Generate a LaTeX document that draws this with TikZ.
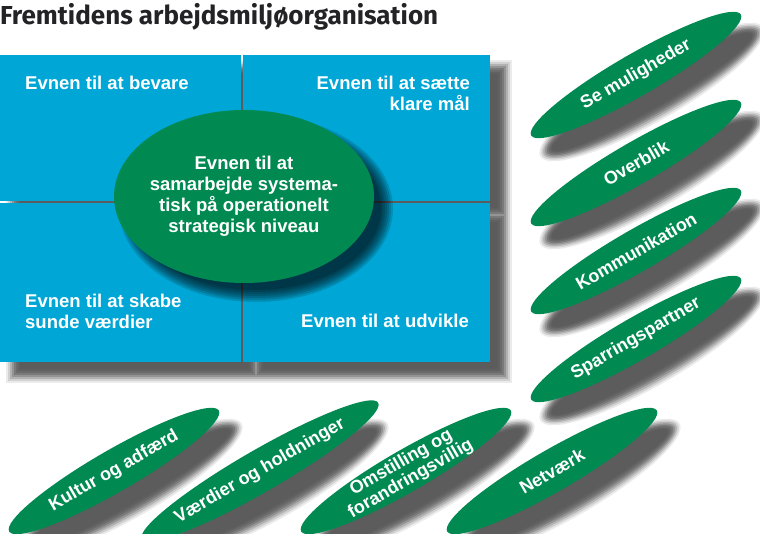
\documentclass[tikz,border=0pt]{standalone}
\usepackage{fontspec}
\setmainfont{Liberation Sans}
\newfontfamily\headfont{Fira Sans}
\usepackage{tikz}
\usetikzlibrary{shapes.geometric,positioning}
\pgfdeclarelayer{shadow}
\pgfsetlayers{shadow,main}
\definecolor{fieldblue}{RGB}{0,167,214}
\definecolor{leafgreen}{RGB}{0,138,82}
\definecolor{headgray}{RGB}{35,35,38}

\begin{document}
\begin{tikzpicture}[x=1pt, y=-1pt, font=\bfseries\fontsize{18.5}{21}\selectfont]

    \tikzstyle{field} = [rectangle, fill=fieldblue, inner sep=0pt, anchor=north west]
    \tikzstyle{fieldtext} = [text=white, inner sep=0pt, align=left]
    \tikzstyle{leaf} = [ellipse, rotate=30, fill=leafgreen, text=white, minimum width=242pt, minimum height=42pt, inner sep=0pt, align=center, font=\bfseries\fontsize{18}{19}\selectfont]
    \tikzstyle{blot} = [ellipse, rotate=30, inner sep=0pt]

    \useasboundingbox (0,0) rectangle (760,534);

    \node (title) [anchor=base west, inner sep=0pt, text=headgray, font=\headfont\bfseries\fontsize{26}{28}\selectfont] at (0,25) {Fremtidens arbejdsmiljøorganisation};

    % the four fields
    \node (nw) [field, minimum width=241pt, minimum height=146pt] at (0,55)   {};
    \node (ne) [field, minimum width=247pt, minimum height=146pt] at (243,55)  {};
    \node (sw) [field, minimum width=241pt, minimum height=159pt] at (0,203)  {};
    \node (se) [field, minimum width=247pt, minimum height=159pt] at (243,203) {};

    \node (keep)    [fieldtext, anchor=base west]              at (25,90)   {Evnen til at bevare};
    \node (goal)    [fieldtext, anchor=base east, align=right] at (470,111) {Evnen til at sætte\\klare mål};
    \node (values)  [fieldtext, anchor=base west]              at (25,329)  {Evnen til at skabe\\sunde værdier};
    \node (develop) [fieldtext, anchor=base east]              at (469,328) {Evnen til at udvikle};

    % middle
    \coordinate (hub) at (244,196.5);
    \foreach \r in {7,5,...,-5}
        \node [ellipse, fill=black, fill opacity=0.14, inner sep=0pt, minimum width={260+2*\r}, minimum height={173+2*\r}] at ([shift={(12,12)}]hub) {};
    \node (core) [ellipse, fill=leafgreen, text=white, minimum width=260pt, minimum height=173pt, inner sep=0pt, inner xsep=-6pt, align=center] at (hub)
        {Evnen til at\\samarbejde systema-\\tisk på operationelt\\strategisk niveau};

    % leaves
    \node (muligheder) [leaf] at (636,75)  {Se muligheder};
    \node (overblik)   [leaf] at (636,163) {Overblik};
    \node (komm)       [leaf] at (636,251) {Kommunikation};
    \node (sparring)   [leaf] at (636,339) {Sparringspartner};

    \node (kultur)     [leaf] at (114,471) {Kultur og adfærd};
    \node (vaerdier)   [leaf] at (260,471) {Værdier og holdninger};
    \node (omstilling) [leaf, inner ysep=-5pt] at (406,471) {Omstilling og\\forandringsvillig};
    \node (netvaerk)   [leaf] at (552,471) {Netværk};

    % soft shadows, outer rings first
    \begin{pgfonlayer}{shadow}
        \foreach \r/\t in {8/8,6/18,4/30,2/42,0/52,-2/58,-4/62,-6/64} {
            \foreach \q in {nw,ne,sw,se}
                \fill [black!\t] ([shift={({14-\r},{13-\r})}]\q.north west) rectangle ([shift={({14+\r},{13+\r})}]\q.south east);
            \foreach \l in {muligheder,overblik,komm,sparring,kultur,vaerdier,omstilling,netvaerk}
                \node [blot, fill=black!\t, minimum width={242+2*\r}, minimum height={42+2*\r}] at ([shift={(16,17)}]\l.center) {};
        }
    \end{pgfonlayer}
\end{tikzpicture}
\end{document}
